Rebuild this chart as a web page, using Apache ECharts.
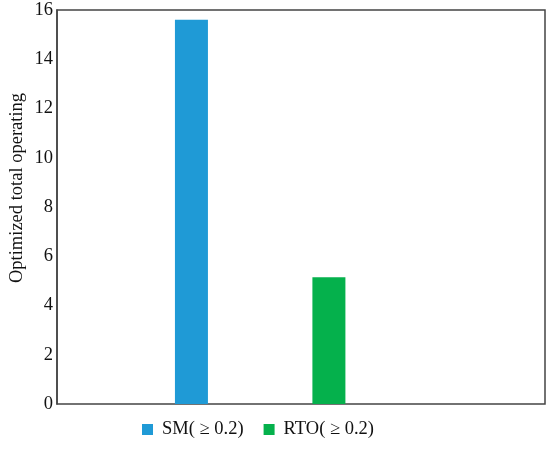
<!DOCTYPE html>
<html>
<head>
<meta charset="utf-8">
<script src="https://cdn.jsdelivr.net/npm/echarts@6/dist/echarts.min.js"></script>
<style>
  html, body { margin: 0; padding: 0; background: #fff; }
  #chart-container { width: 550px; height: 449px; }
</style>
</head>
<body>
<div id="chart-container"></div>
<script>
// chart data
var seriesNames = ['SM( \u2265 0.2)', 'RTO( \u2265 0.2)'];
var seriesColors = ['#1f9ad6', '#05b14c'];
var xPositions = [1, 2];
var barValues = [15.6, 5.15];
var yTicks = [0, 2, 4, 6, 8, 10, 12, 14, 16];
var yTitle = 'Optimized total operating';

(function () {
    var domChart = document.getElementById('chart-container');
    var ioChart = echarts.init(domChart, null, { renderer: 'canvas' });
    var fontFamily = '"Liberation Serif", "Times New Roman", serif';

    var _seriesData = [];
    for (var i = 0; i < seriesNames.length; i++) {
        _seriesData.push({
            name: seriesNames[i],
            type: 'bar',
            barWidth: 33,
            barGap: '-100%',
            itemStyle: { color: seriesColors[i] },
            data: [[xPositions[i], barValues[i]]]
        });
    }

    var chartOption = {
        backgroundColor: '#fff',
        animation: false,
        grid: {
            left: 57,
            right: 5,
            top: 10,
            bottom: 45,
            show: true,
            borderColor: '#444',
            borderWidth: 1.5,
            backgroundColor: 'transparent'
        },
        legend: {
            bottom: 5,
            left: 137,
            itemWidth: 11,
            itemHeight: 11,
            itemGap: 20,
            icon: 'rect',
            textStyle: {
                fontFamily: fontFamily,
                fontSize: 18.5,
                color: '#111',
                padding: [0, 0, 0, 4]
            },
            data: seriesNames
        },
        xAxis: {
            type: 'value',
            min: 0.022,
            max: 3.572,
            axisLine: { show: false },
            axisTick: { show: false },
            axisLabel: { show: false },
            splitLine: { show: false }
        },
        yAxis: {
            type: 'value',
            min: yTicks[0],
            max: yTicks[yTicks.length - 1],
            interval: 2,
            axisLine: { show: true, lineStyle: { color: '#444', width: 1.5 } },
            axisTick: { show: false },
            splitLine: { show: false },
            axisLabel: {
                fontFamily: fontFamily,
                fontSize: 18.5,
                color: '#111',
                margin: 4
            }
        },
        graphic: [{
            type: 'text',
            x: 17,
            y: 188,
            rotation: Math.PI / 2,
            style: {
                text: yTitle,
                fontFamily: fontFamily,
                fontSize: 18.5,
                fill: '#111',
                align: 'center',
                verticalAlign: 'middle'
            }
        }],
        series: _seriesData
    };
    ioChart.setOption(chartOption);
})();
</script>
</body>
</html>
